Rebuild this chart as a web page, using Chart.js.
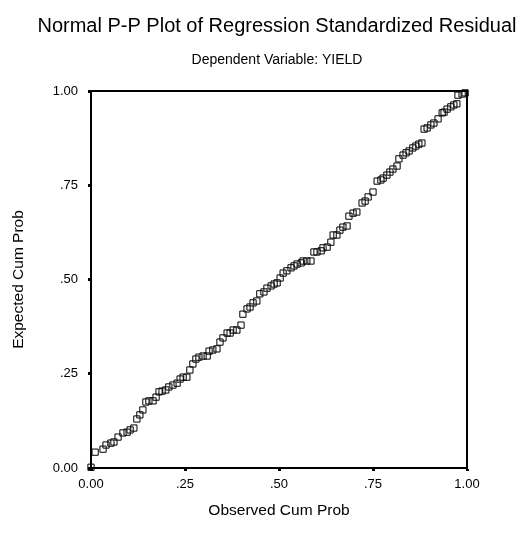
<!DOCTYPE html>
<html>
<head>
<meta charset="utf-8">
<script src="https://cdn.jsdelivr.net/npm/chart.js@4/dist/chart.umd.min.js"></script>
<style>
  html, body { margin: 0; padding: 0; background: #ffffff; }
  #wrap { width: 528px; height: 546px; }
</style>
</head>
<body>
<div id="wrap"><canvas id="pp-chart" width="528" height="546"></canvas></div>
<script>
// Observed vs expected cumulative probabilities
const observedCum = [
  0.000, 0.011, 0.032, 0.040, 0.053, 0.061, 0.072, 0.085, 0.096, 0.104,
  0.114, 0.122, 0.130, 0.138, 0.146, 0.154, 0.165, 0.173, 0.181, 0.189,
  0.199, 0.207, 0.218, 0.229, 0.237, 0.245, 0.255, 0.263, 0.271, 0.279,
  0.287, 0.298, 0.309, 0.314, 0.324, 0.335, 0.343, 0.351, 0.362, 0.370,
  0.378, 0.388, 0.399, 0.404, 0.415, 0.423, 0.431, 0.441, 0.449, 0.460,
  0.468, 0.479, 0.487, 0.495, 0.503, 0.511, 0.521, 0.532, 0.540, 0.548,
  0.559, 0.564, 0.574, 0.585, 0.593, 0.601, 0.612, 0.617, 0.628, 0.638,
  0.644, 0.654, 0.662, 0.670, 0.681, 0.686, 0.697, 0.707, 0.721, 0.729,
  0.737, 0.750, 0.761, 0.771, 0.777, 0.787, 0.795, 0.803, 0.814, 0.819,
  0.830, 0.838, 0.846, 0.856, 0.864, 0.872, 0.880, 0.886, 0.894, 0.904,
  0.912, 0.923, 0.934, 0.939, 0.947, 0.957, 0.965, 0.973, 0.976, 0.987,
  0.995
];
const expectedCum = [
  0.002, 0.042, 0.050, 0.061, 0.066, 0.069, 0.082, 0.093, 0.095, 0.101,
  0.106, 0.130, 0.141, 0.154, 0.175, 0.178, 0.178, 0.188, 0.202, 0.204,
  0.207, 0.215, 0.220, 0.225, 0.236, 0.241, 0.241, 0.260, 0.276, 0.289,
  0.294, 0.297, 0.297, 0.310, 0.313, 0.316, 0.334, 0.345, 0.358, 0.358,
  0.366, 0.366, 0.379, 0.408, 0.422, 0.427, 0.438, 0.443, 0.462, 0.467,
  0.477, 0.483, 0.488, 0.491, 0.504, 0.517, 0.523, 0.531, 0.536, 0.541,
  0.544, 0.549, 0.549, 0.549, 0.573, 0.573, 0.576, 0.584, 0.586, 0.599,
  0.618, 0.618, 0.631, 0.639, 0.642, 0.668, 0.676, 0.679, 0.703, 0.708,
  0.719, 0.732, 0.761, 0.764, 0.769, 0.777, 0.785, 0.793, 0.801, 0.820,
  0.830, 0.836, 0.841, 0.849, 0.854, 0.859, 0.862, 0.899, 0.902, 0.910,
  0.915, 0.926, 0.942, 0.944, 0.952, 0.958, 0.963, 0.966, 0.989, 0.992,
  0.995
];
const tickValues = [0, 0.25, 0.5, 0.75, 1];
const tickLabels = ['0.00', '.25', '.50', '.75', '1.00'];

const FONT = '"Liberation Sans", Arial, Helvetica, sans-serif';
Chart.defaults.font.family = FONT;
Chart.defaults.color = '#000000';

function tickText(value) {
    const i = tickValues.findIndex(v => Math.abs(v - value) < 1e-9);
    return i >= 0 ? tickLabels[i] : '';
}

// Box round the plot area (Chart.js only draws left and bottom borders)
const frame = {
    id: 'frame',
    afterDatasetsDraw(chart) {
        const {ctx, chartArea: a} = chart;
        ctx.save();
        ctx.strokeStyle = '#000000';
        ctx.lineWidth = 2;
        ctx.strokeRect(a.left, a.top, a.right - a.left, a.bottom - a.top);
        ctx.restore();
    }
};

const points = observedCum.map((x, i) => ({x: x, y: expectedCum[i]}));

const axisCommon = {
    type: 'linear',
    min: 0,
    max: 1,
    border: { display: true, color: '#000000', width: 2 },
    grid: {
        drawOnChartArea: false,
        drawTicks: true,
        tickLength: 3,
        tickWidth: 3,
        tickColor: '#000000'
    },
    afterBuildTicks(scale) {
        scale.ticks = tickValues.map(v => ({value: v}));
    }
};

new Chart(document.getElementById('pp-chart'), {
    type: 'scatter',
    data: {
        datasets: [{
            label: 'Residual',
            data: points,
            yAxisID: 'y',
            pointStyle: 'rect',
            pointRadius: 4.4,
            pointHoverRadius: 4.4,
            borderColor: '#000000',
            borderWidth: 1,
            backgroundColor: 'rgba(0,0,0,0)',
            clip: false
        }]
    },
    plugins: [frame],
    options: {
        responsive: false,
        animation: false,
        layout: { padding: { left: 26, right: 0, top: 0, bottom: 0 } },
        plugins: {
            legend: { display: false },
            tooltip: { enabled: false },
            title: {
                display: true,
                text: 'Normal P-P Plot of Regression Standardized Residual',
                color: '#000000',
                font: { size: 20, weight: 'normal', lineHeight: 1.2 },
                padding: { top: 14, bottom: 11.8 }
            },
            subtitle: {
                display: true,
                text: 'Dependent Variable: YIELD',
                color: '#000000',
                font: { size: 14, weight: 'normal', lineHeight: 1.2 },
                padding: { top: 2, bottom: 22.4 }
            }
        },
        scales: {
            x: Object.assign({}, axisCommon, {
                position: 'bottom',
                ticks: { padding: 6, font: { size: 13 }, color: '#000000', maxRotation: 0, callback: tickText },
                title: {
                    display: true,
                    text: 'Observed Cum Prob',
                    color: '#000000',
                    font: { size: 15.5, lineHeight: 1.2 },
                    padding: { top: 0, bottom: 26 }
                },
                afterFit(scale) { scale.height = 78; }
            }),
            y: Object.assign({}, axisCommon, {
                position: 'left',
                ticks: { padding: 10, font: { size: 13 }, color: '#000000', callback: tickText },
                title: {
                    display: true,
                    text: 'Expected Cum Prob',
                    color: '#000000',
                    font: { size: 15.5, lineHeight: 1.2 },
                    padding: { top: -16.3, bottom: 0 }
                },
                afterFit(scale) { scale.width = 65; }
            }),
            // empty right-hand axis, only to keep the plot's right margin
            y2: {
                type: 'linear',
                position: 'right',
                min: 0,
                max: 1,
                border: { display: false },
                grid: { display: false, drawTicks: false },
                ticks: { display: false },
                afterFit(scale) { scale.width = 61; }
            }
        }
    }
});
</script>
</body>
</html>
